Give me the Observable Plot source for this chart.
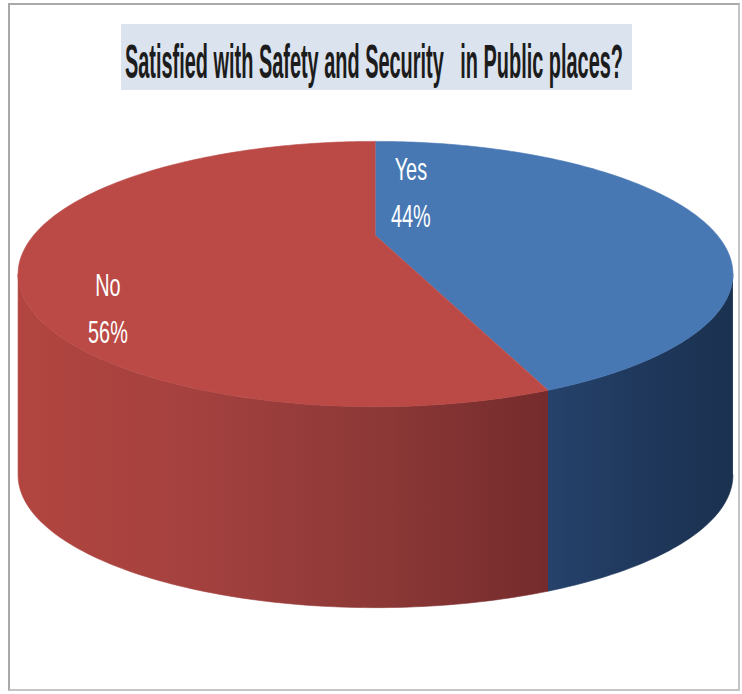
<!DOCTYPE html>
<html><head><meta charset="utf-8">
<script src="https://cdn.jsdelivr.net/npm/d3@7"></script>
<script src="https://cdn.jsdelivr.net/npm/@observablehq/plot@0.6"></script>
<style>
html,body{margin:0;padding:0;background:#fff;}
#page{position:relative;width:742px;height:694px;overflow:hidden;background:#fff;}
#frame{position:absolute;left:8px;top:3px;width:732px;height:688px;box-sizing:border-box;border:2px solid #a9a9a9;border-right-color:#c4c4c4;border-bottom-color:#c4c4c4;pointer-events:none;z-index:3;}
#header{position:relative;height:100px;}
#titlebox{position:absolute;left:121px;top:24px;width:511px;height:66px;background:#dbe3ee;}
#title{position:absolute;left:4px;top:14px;font-family:"Liberation Sans Narrow","Liberation Sans",sans-serif;font-weight:bold;font-size:48px;line-height:1;white-space:pre;color:#1c1c1c;transform-origin:0 0;display:inline-block;}
#chart svg{display:block;}
</style></head>
<body><div id="page"><div id="frame"></div><div id="header"><div id="titlebox"><span id="title"></span></div></div><div id="chart"></div></div>
<script>
// ---- data ----
const titleText = "Satisfied with Safety and Security   in Public places?";
const categories = ["Yes", "No"];
const values = [44, 56];
const valueLabels = ["44%", "56%"];

// ---- styles ----
const topColors = {Yes: "#4878b4", No: "#bb4a46"};
const sideStops = {
  Yes: ["#26426b", "#1f385c", "#1b3150"],
  No: ["#b2453f", "#a4413f", "#8d3937", "#752b2c"]
};
const labelPlacement = {Yes: {angle: 15, radius: 0.45}, No: {angle: 234, radius: 0.83}};

// ---- 3-D projection of the pie (tilted disc seen in perspective) ----
const tilt = 20.8 * Math.PI / 180, S = Math.sin(tilt), C = Math.cos(tilt);
const camDist = 3.218, thickness = 0.1826, F = 1100.6;
function project(angleDeg, r, level) {
  const a = angleDeg * Math.PI / 180;
  const u = r * Math.sin(a), w = r * Math.cos(a);
  const depth = camDist + w * C;
  return {x: u / depth, y: (w * S) / depth - level * thickness};
}
function arc(a0, a1, r, level) {
  const n = Math.max(2, Math.ceil(Math.abs(a1 - a0)));
  return d3.range(n + 1).map(i => project(a0 + (a1 - a0) * i / n, r, level));
}

const total = d3.sum(values);
let cum = 0;
const slices = categories.map((c, i) => {
  const a0 = cum / total * 360; cum += values[i];
  const a1 = cum / total * 360;
  return {cat: c, a0, a1, label: c + "\n" + valueLabels[i]};
});

const thetaR = Math.acos(-C / camDist) * 180 / Math.PI;
const thetaL = 360 - thetaR;

const sidePolys = [], topPolys = [];
for (const s of slices) {
  const lo = Math.max(s.a0, thetaR), hi = Math.min(s.a1, thetaL);
  if (hi > lo) sidePolys.push({cat: s.cat, lo, hi, pts: [...arc(lo, hi, 1, 0), ...arc(hi, lo, 1, 1)]});
  topPolys.push({cat: s.cat, pts: [project(0, 0, 0), ...arc(s.a0, s.a1, 1, 0)]});
}
const labels = slices.map(s => {
  const p = labelPlacement[s.cat];
  return {...project(p.angle, p.radius, 0), text: s.label};
});

const W = 742, H = 594, cx = 375, cy = 135;
const chart = Plot.plot({
  width: W, height: H, margin: 0,
  x: {domain: [-cx / F, (W - cx) / F], axis: null},
  y: {domain: [-(H - cy) / F, cy / F], axis: null},
  style: {background: "transparent", overflow: "visible"},
  marks: [
    ...sidePolys.map(p => Plot.line(p.pts, {x: "x", y: "y", fill: `url(#side-${p.cat})`, stroke: `url(#side-${p.cat})`, strokeWidth: 0.6})),
    ...topPolys.map(p => Plot.line(p.pts, {x: "x", y: "y", fill: topColors[p.cat], stroke: topColors[p.cat], strokeWidth: 0.6})),
    Plot.text(labels, {x: "x", y: "y", text: "text", fill: "white", fontSize: 32, lineHeight: 1.45,
      fontFamily: "Liberation Sans Narrow, Liberation Sans, sans-serif"})
  ]
});

// gradients for the side walls
const xs = chart.scale("x");
const defs = d3.select(chart).insert("defs", ":first-child");
for (const p of sidePolys) {
  const x1 = d3.min(p.pts, d => xs.apply(d.x)), x2 = d3.max(p.pts, d => xs.apply(d.x));
  const g = defs.append("linearGradient").attr("id", `side-${p.cat}`)
    .attr("gradientUnits", "userSpaceOnUse").attr("x1", x1).attr("x2", x2).attr("y1", 0).attr("y2", 0);
  const stops = sideStops[p.cat];
  stops.forEach((c, i) => g.append("stop").attr("offset", i / (stops.length - 1)).attr("stop-color", c));
}
// condensed label glyphs
d3.select(chart).selectAll("g[aria-label='text'] text").attr("transform", function () {
  return (this.getAttribute("transform") || "") + " scale(0.62,1)";
});

document.getElementById("chart").appendChild(chart);
const t = document.getElementById("title");
t.textContent = titleText;
const tw = t.getBoundingClientRect().width;
t.style.transform = `scaleX(${498 / tw})`;
</script>
</body></html>
